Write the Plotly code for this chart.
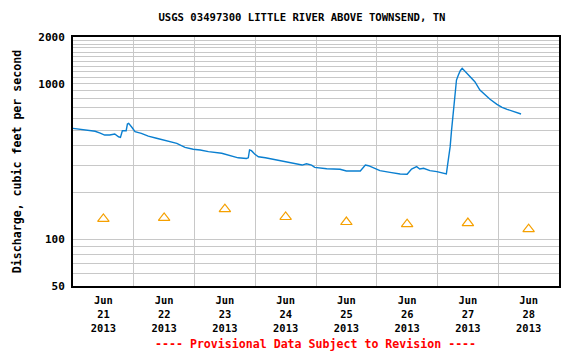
import plotly.graph_objects as go

# ---- data ----
times = [
    "2013-06-21 00:00", "2013-06-21 04:45", "2013-06-21 08:45", "2013-06-21 10:45", "2013-06-21 12:30",
    "2013-06-21 14:30", "2013-06-21 16:30", "2013-06-21 18:00", "2013-06-21 18:45", "2013-06-21 19:30",
    "2013-06-21 21:00", "2013-06-21 21:30", "2013-06-21 22:00", "2013-06-21 23:15", "2013-06-22 00:30",
    "2013-06-22 03:00", "2013-06-22 05:45", "2013-06-22 09:00", "2013-06-22 13:00", "2013-06-22 17:00",
    "2013-06-22 20:15", "2013-06-22 23:30", "2013-06-23 02:15", "2013-06-23 05:30", "2013-06-23 10:45",
    "2013-06-23 14:45", "2013-06-23 17:15", "2013-06-23 20:30", "2013-06-23 21:15", "2013-06-23 21:45",
    "2013-06-23 22:30", "2013-06-23 23:45", "2013-06-24 01:15", "2013-06-24 04:00", "2013-06-24 06:30",
    "2013-06-24 10:30", "2013-06-24 14:30", "2013-06-24 18:30", "2013-06-24 20:15", "2013-06-24 22:15",
    "2013-06-24 23:30", "2013-06-25 03:00", "2013-06-25 04:15", "2013-06-25 09:30", "2013-06-25 12:00",
    "2013-06-25 17:30", "2013-06-25 19:30", "2013-06-25 20:45", "2013-06-25 22:30", "2013-06-26 01:15",
    "2013-06-26 05:15", "2013-06-26 09:15", "2013-06-26 12:00", "2013-06-26 13:45", "2013-06-26 15:45",
    "2013-06-26 17:00", "2013-06-26 18:30", "2013-06-26 21:00", "2013-06-26 23:45", "2013-06-27 02:15",
    "2013-06-27 03:30", "2013-06-27 04:15", "2013-06-27 05:00", "2013-06-27 05:30", "2013-06-27 06:15",
    "2013-06-27 07:00", "2013-06-27 07:30", "2013-06-27 08:15", "2013-06-27 09:00", "2013-06-27 09:45",
    "2013-06-27 11:00", "2013-06-27 12:15", "2013-06-27 13:30", "2013-06-27 14:45", "2013-06-27 16:45",
    "2013-06-27 18:45", "2013-06-27 20:45", "2013-06-27 23:30", "2013-06-28 01:30", "2013-06-28 03:30",
    "2013-06-28 05:15", "2013-06-28 06:30", "2013-06-28 09:00",
]
discharge = [
    517, 504, 495, 482, 468,
    468, 475, 456, 452, 499,
    499, 551, 557, 525, 492,
    480, 461, 446, 428, 414,
    390, 379, 375, 366, 357,
    345, 334, 331, 334, 375,
    371, 353, 339, 334, 328,
    320, 312, 300, 306, 300,
    290, 286, 284, 282, 275,
    275, 300, 297, 288, 276,
    269, 263, 262, 283, 293,
    283, 286, 276, 272, 265,
    263, 323, 394, 492, 678,
    912, 1057, 1139, 1214, 1258,
    1196, 1139, 1084, 1031, 912,
    847, 795, 738, 706, 685,
    671, 661, 639,
]

median_dates = ["2013-06-21 12:00", "2013-06-22 12:00", "2013-06-23 12:00", "2013-06-24 12:00",
                "2013-06-25 12:00", "2013-06-26 12:00", "2013-06-27 12:00", "2013-06-28 12:00"]
median_values = [135, 137, 156, 139, 129, 125, 127, 116]

day_labels = ["Jun<br>21<br>2013", "Jun<br>22<br>2013", "Jun<br>23<br>2013", "Jun<br>24<br>2013",
              "Jun<br>25<br>2013", "Jun<br>26<br>2013", "Jun<br>27<br>2013", "Jun<br>28<br>2013"]
day_bounds = ["2013-06-21", "2013-06-22", "2013-06-23", "2013-06-24", "2013-06-25",
              "2013-06-26", "2013-06-27", "2013-06-28", "2013-06-29"]

y_grid = [50, 60, 70, 80, 90, 100, 200, 300, 400, 500, 600, 700, 800, 900,
          1000, 1100, 1200, 1300, 1400, 1500, 1600, 1700, 1800, 1900, 2000]
y_labeled = {50: "50", 100: "100", 1000: "1000", 2000: "2000"}

FONT = "DejaVu Sans Mono"
W, H = 575, 352  # page body adds an 8px margin

fig = go.Figure()
fig.add_trace(go.Scatter(x=times, y=discharge, mode="lines",
                         line=dict(color="#0a7fd0", width=1.4), hoverinfo="skip"))
fig.add_trace(go.Scatter(x=median_dates, y=median_values, mode="markers",
                         marker=dict(symbol="triangle-up-open", size=10, color="#f5a000",
                                     line=dict(width=1.2, color="#f5a000")),
                         hoverinfo="skip"))

fig.update_layout(
    width=W, height=H,
    margin=dict(l=65, r=24, t=29, b=74, autoexpand=False),
    paper_bgcolor="white", plot_bgcolor="white",
    showlegend=False,
    font=dict(family=FONT, size=11, color="black", weight="bold"),
    title=dict(text="USGS 03497300 LITTLE RIVER ABOVE TOWNSEND, TN",
               x=(302 - 73) / (559 - 73), xanchor="center", xref="paper",
               y=1 - 9 / H, yanchor="middle",
               font=dict(family=FONT, size=10.6, color="black", weight="bold")),
)

fig.update_xaxes(
    type="date", automargin=False,
    range=[day_bounds[0], day_bounds[-1]],
    tickvals=median_dates, ticktext=day_labels,
    tickfont=dict(family=FONT, size=10.4, color="black", weight="bold"),
    ticks="", showgrid=False, ticklabelstandoff=4,
    minor=dict(tickvals=day_bounds, showgrid=True, gridcolor="#c8c8c8", gridwidth=1, ticks=""),
    showline=True, linecolor="black", linewidth=2, mirror=True,
    zeroline=False,
)

fig.update_yaxes(
    type="log", automargin=False,
    range=[1.69897, 3.30103],
    tickvals=y_grid,
    ticktext=[y_labeled.get(v, "") for v in y_grid],
    tickfont=dict(family=FONT, size=11, color="black", weight="bold"),
    ticks="", showgrid=True, gridcolor="#c8c8c8", gridwidth=1,
    showline=True, linecolor="black", linewidth=2, mirror=True,
    zeroline=False, ticklabelstandoff=4,
    title=dict(text="Discharge, cubic feet per second", standoff=14,
               font=dict(family=FONT, size=11.6, color="black", weight="bold")),
)

fig.add_annotation(
    text="---- Provisional Data Subject to Revision ----",
    xref="paper", yref="paper", x=(315 - 73) / (559 - 73), y=-(344 - 286) / (286 - 37),
    xanchor="center", yanchor="middle", showarrow=False,
    font=dict(family=FONT, size=11.6, color="red", weight="bold"),
)

fig.write_html("out.html")
